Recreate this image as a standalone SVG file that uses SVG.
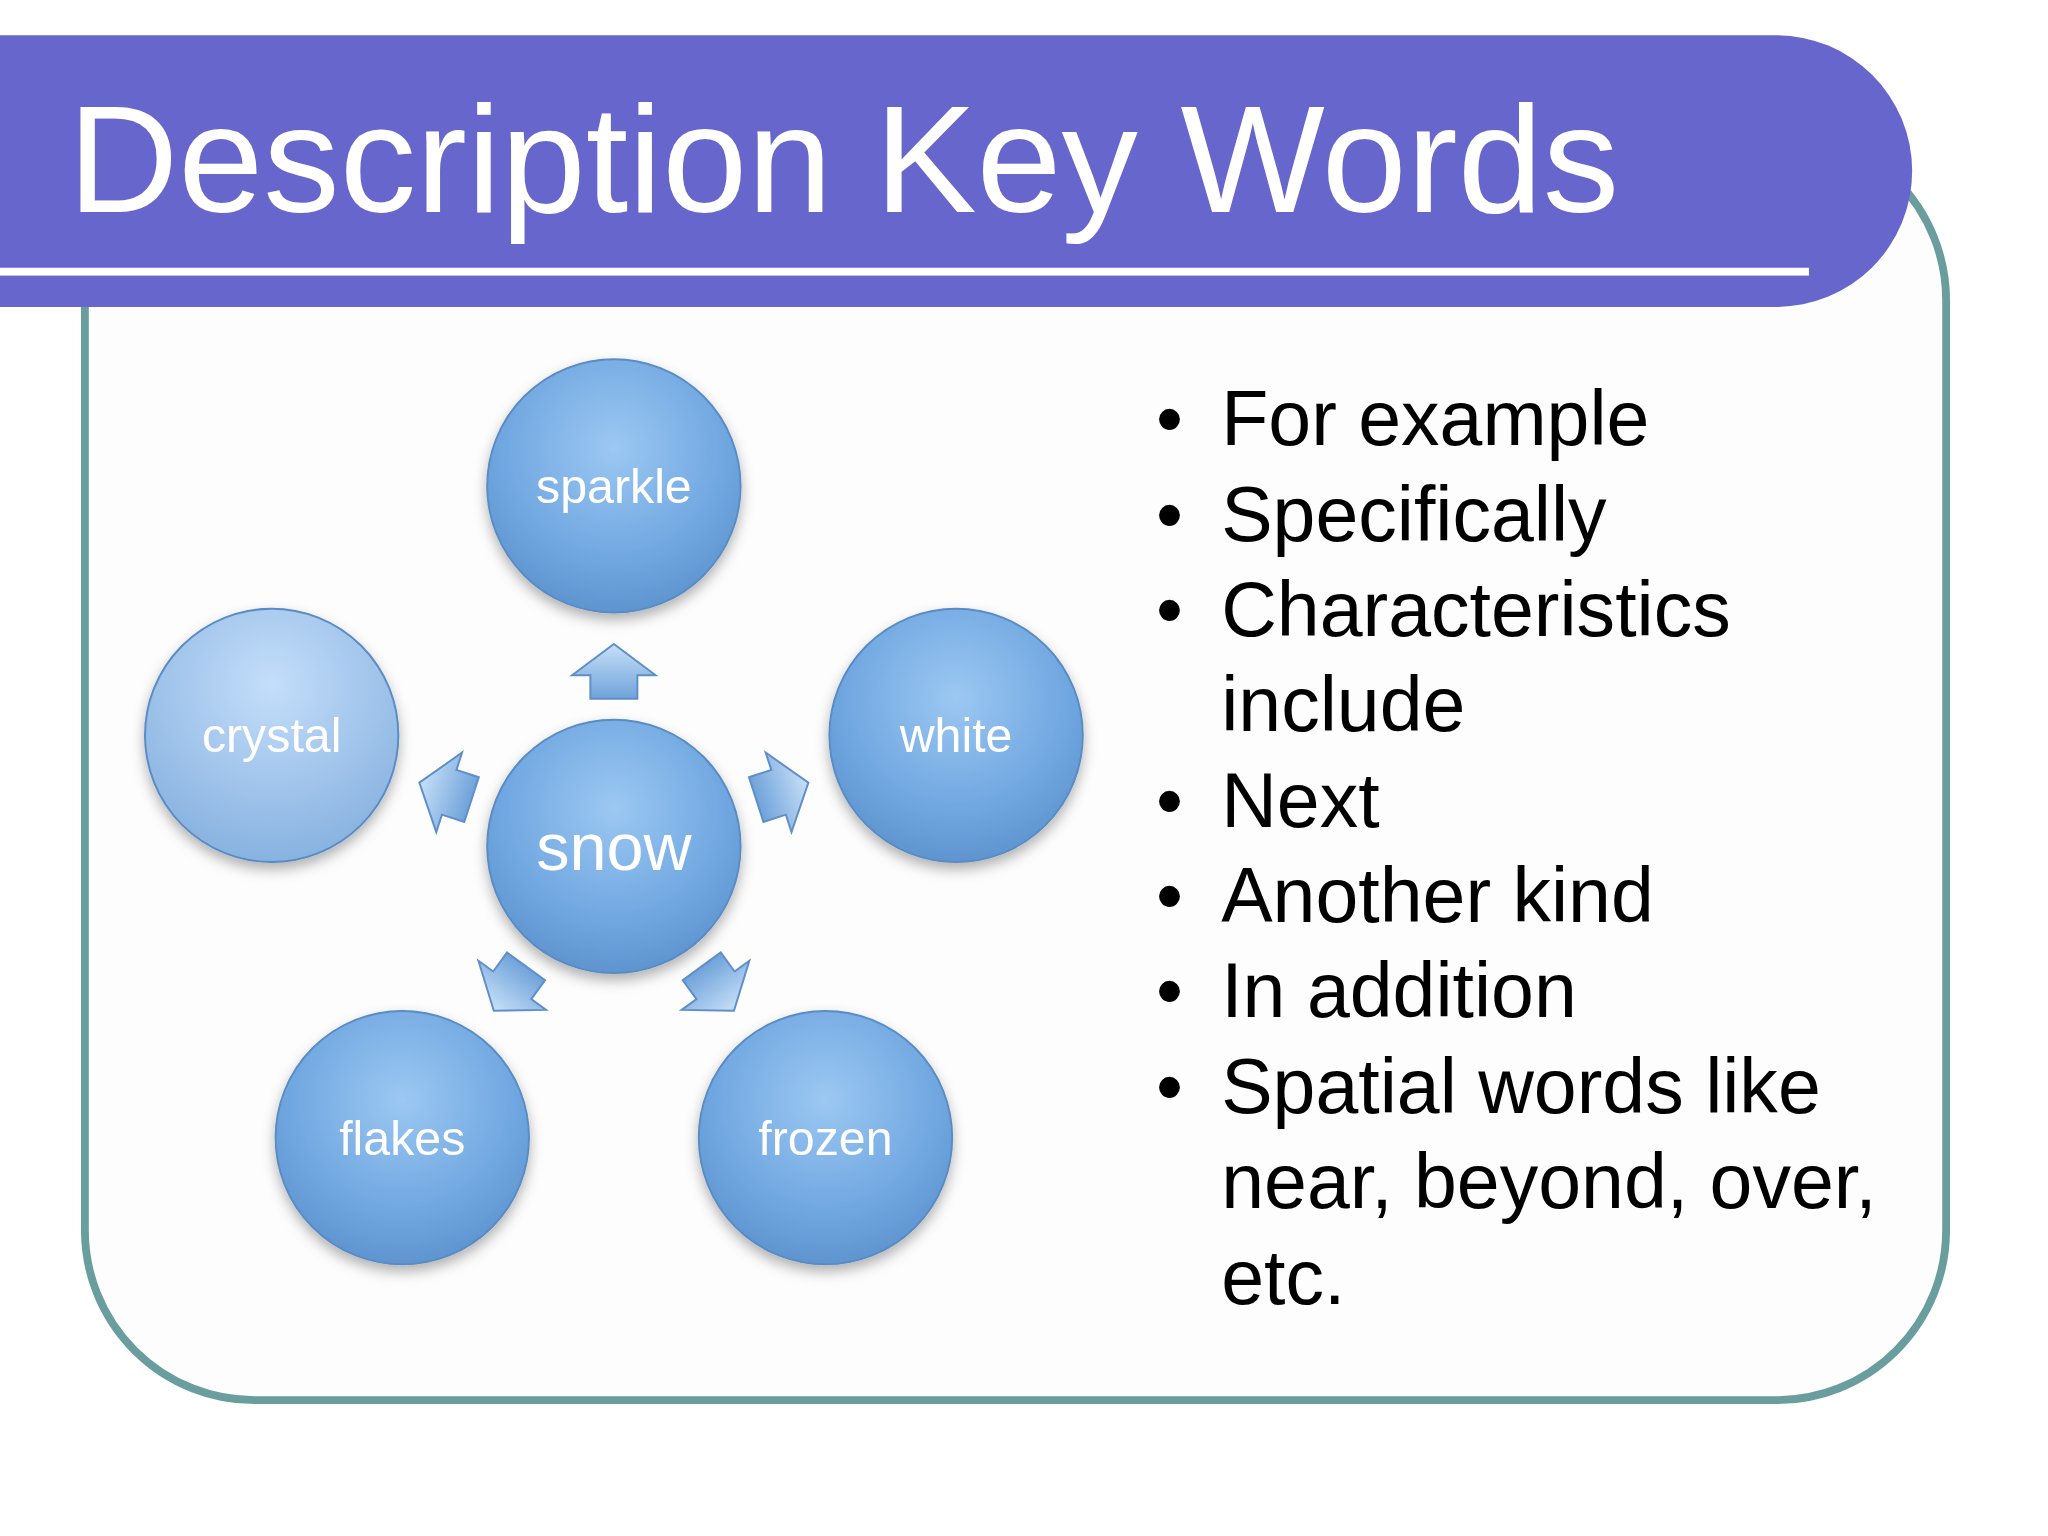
<svg xmlns="http://www.w3.org/2000/svg" width="2048" height="1536" viewBox="0 0 2048 1536">
<defs>
<radialGradient id="ball" cx="50%" cy="35%" r="65%">
<stop offset="0" stop-color="#9cc8f2"/><stop offset="0.7" stop-color="#6fa6e0"/><stop offset="1" stop-color="#5f94cf"/>
</radialGradient>
<radialGradient id="ball2" cx="50%" cy="30%" r="70%">
<stop offset="0" stop-color="#c4defa"/><stop offset="1" stop-color="#88b2e0"/>
</radialGradient>
<linearGradient id="arr" x1="0" y1="0" x2="0" y2="1">
<stop offset="0" stop-color="#c7e0f8"/><stop offset="1" stop-color="#6fa2da"/>
</linearGradient>
<filter id="sh" x="-20%" y="-20%" width="140%" height="150%"><feDropShadow dx="0" dy="5" stdDeviation="5" flood-color="#000" flood-opacity="0.3"/></filter>
<path id="a" d="M0,-22 L32,2 L18,2 L18,20 L-18,20 L-18,2 L-32,2 Z"/>
</defs>
<style>
.lbl{font-family:"Liberation Sans",Arial,sans-serif;fill:#fff;text-anchor:middle}
.b{font-family:"Liberation Sans",Arial,sans-serif;fill:#000;font-size:59px}
.ci{fill:url(#ball);stroke:#5a8cc4;stroke-width:1.5;filter:url(#sh)}
.ar{fill:url(#arr);stroke:#5f8fc8;stroke-width:1.5}
</style>
<rect width="2048" height="1536" fill="#fff"/>
<g transform="scale(1.30612)">
<rect x="65" y="100" width="1425" height="972" rx="130" fill="#fdfdfd" stroke="#6a9e9e" stroke-width="6"/>
<path d="M0,27 H1360 A104,104 0 0 1 1360,235 H0 Z" fill="#6666cc"/>
<rect x="0" y="205" width="1385" height="6" fill="#fff"/>
<text x="52" y="162" font-family="Liberation Sans,Arial,sans-serif" font-size="117" fill="#fff">Description Key Words</text>
<g id="connectors">
<use href="#a" class="ar" transform="translate(470,515)"/>
<use href="#a" class="ar" transform="translate(598,606) rotate(72)"/>
<use href="#a" class="ar" transform="translate(549,756) rotate(144)"/>
<use href="#a" class="ar" transform="translate(391,756) rotate(216)"/>
<use href="#a" class="ar" transform="translate(342,606) rotate(288)"/>
</g>
<g id="sparkle"><circle class="ci" cx="470" cy="372" r="97"/><text class="lbl" x="470" y="385" font-size="37">sparkle</text></g>
<g id="crystal"><circle class="ci" cx="208" cy="563" r="97" style="fill:url(#ball2)"/><text class="lbl" x="208" y="576" font-size="37">crystal</text></g>
<g id="white"><circle class="ci" cx="732" cy="563" r="97"/><text class="lbl" x="732" y="576" font-size="37">white</text></g>
<g id="snow"><circle class="ci" cx="470" cy="648" r="97"/><text class="lbl" x="470" y="666" font-size="51">snow</text></g>
<g id="flakes"><circle class="ci" cx="308" cy="871" r="97"/><text class="lbl" x="308" y="884" font-size="37">flakes</text></g>
<g id="frozen"><circle class="ci" cx="632" cy="871" r="97"/><text class="lbl" x="632" y="884" font-size="37">frozen</text></g>
<g id="bullets">
<text class="b" x="885" y="341">•</text><text class="b" x="935" y="341">For example</text>
<text class="b" x="885" y="414">•</text><text class="b" x="935" y="414">Specifically</text>
<text class="b" x="885" y="487">•</text><text class="b" x="935" y="487">Characteristics</text>
<text class="b" x="935" y="560">include</text>
<text class="b" x="885" y="633">•</text><text class="b" x="935" y="633">Next</text>
<text class="b" x="885" y="706">•</text><text class="b" x="935" y="706">Another kind</text>
<text class="b" x="885" y="779">•</text><text class="b" x="935" y="779">In addition</text>
<text class="b" x="885" y="852">•</text><text class="b" x="935" y="852">Spatial words like</text>
<text class="b" x="935" y="925">near, beyond, over,</text>
<text class="b" x="935" y="998">etc.</text>
</g>
</g>
</svg>
